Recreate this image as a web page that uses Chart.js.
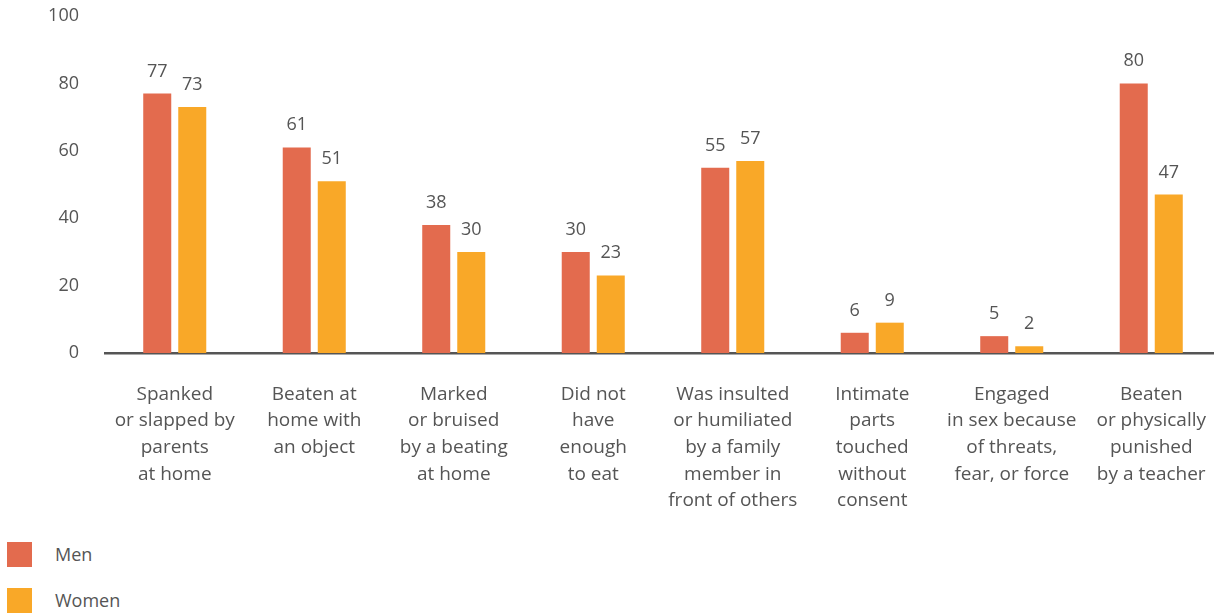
<!DOCTYPE html>
<html>
<head>
<meta charset="utf-8">
<script src="https://cdn.jsdelivr.net/npm/chart.js@4.4.0/dist/chart.umd.min.js"></script>
<style>
  html, body { margin: 0; padding: 0; background: #fff; overflow: hidden; width: 1214px; height: 614px; }
  #c { position: absolute; left: 0; top: 0; }
  #legend { position: absolute; left: 7px; top: 542px; font-family: "Open Sans", sans-serif; font-size: 18px; color: #555; }
  .item { position: relative; height: 25px; margin-bottom: 21px; }
  .sw { position: absolute; left: 0; top: 0; width: 25px; height: 25px; }
  .lab { position: absolute; left: 48px; top: 0; line-height: 25px; }
</style>
</head>
<body>
<canvas id="c" width="1221" height="520"></canvas>
<div id="legend"></div>
<script>
const categories = [
  ["Spanked", "or slapped by", "parents", "at home"],
  ["Beaten at", "home with", "an object"],
  ["Marked", "or bruised", "by a beating", "at home"],
  ["Did not", "have", "enough", "to eat"],
  ["Was insulted", "or humiliated", "by a family", "member in", "front of others"],
  ["Intimate", "parts", "touched", "without", "consent"],
  ["Engaged", "in sex because", "of threats,", "fear, or force"],
  ["Beaten", "or physically", "punished", "by a teacher"]
];
const seriesNames = ["Men", "Women"];
const menValues = [77, 61, 38, 30, 55, 6, 5, 80];
const womenValues = [73, 51, 30, 23, 57, 9, 2, 47];
const yTicks = [0, 20, 40, 60, 80, 100];
const colors = ["#E36B4E", "#F9A828"];
const textColor = "#555555";

const valueLabels = {
  id: "valueLabels",
  afterDatasetsDraw(chart) {
    const ctx = chart.ctx;
    ctx.save();
    ctx.font = "18px 'Open Sans', sans-serif";
    ctx.fillStyle = textColor;
    ctx.textAlign = "center";
    ctx.textBaseline = "alphabetic";
    chart.data.datasets.forEach((ds, i) => {
      chart.getDatasetMeta(i).data.forEach((bar, j) => {
        ctx.fillText(String(ds.data[j]), bar.x, bar.y - 17);
      });
    });
    ctx.restore();
  }
};

function zeroPad(scale) {
  scale.paddingLeft = 0; scale.paddingRight = 0;
  scale.paddingTop = 0; scale.paddingBottom = 0;
}

const chart = new Chart(document.getElementById("c"), {
  type: "bar",
  data: {
    labels: categories,
    datasets: [
      { label: seriesNames[0], data: menValues, backgroundColor: colors[0] },
      { label: seriesNames[1], data: womenValues, backgroundColor: colors[1] }
    ]
  },
  options: {
    responsive: false,
    animation: false,
    layout: { autoPadding: false, padding: { top: 16, left: 0, right: 0, bottom: 0 } },
    plugins: { legend: { display: false }, tooltip: { enabled: false } },
    datasets: { bar: { categoryPercentage: 0.502, barPercentage: 0.8 } },
    scales: {
      x: {
        grid: { display: false, drawTicks: false },
        border: { display: true, color: "#555555", width: 2.5 },
        ticks: {
          color: textColor,
          padding: 28,
          maxRotation: 0,
          autoSkip: false,
          font: { family: "'Open Sans', sans-serif", size: 19, lineHeight: 1.4 }
        },
        afterFit(scale) { scale.height = 167; zeroPad(scale); }
      },
      y: {
        min: 0, max: 100,
        grid: { display: false, drawTicks: false },
        border: { display: false },
        afterBuildTicks(scale) { scale.ticks = yTicks.map(v => ({ value: v })); },
        ticks: {
          color: textColor,
          padding: 26,
          font: { family: "'Open Sans', sans-serif", size: 18 }
        },
        afterFit(scale) { scale.width = 105; zeroPad(scale); }
      }
    }
  },
  plugins: [valueLabels]
});

const legend = document.getElementById("legend");
chart.data.datasets.forEach(ds => {
  const item = document.createElement("div");
  item.className = "item";
  const sw = document.createElement("span");
  sw.className = "sw";
  sw.style.background = ds.backgroundColor;
  const lab = document.createElement("span");
  lab.className = "lab";
  lab.textContent = ds.label;
  item.appendChild(sw); item.appendChild(lab);
  legend.appendChild(item);
});
</script>
</body>
</html>
